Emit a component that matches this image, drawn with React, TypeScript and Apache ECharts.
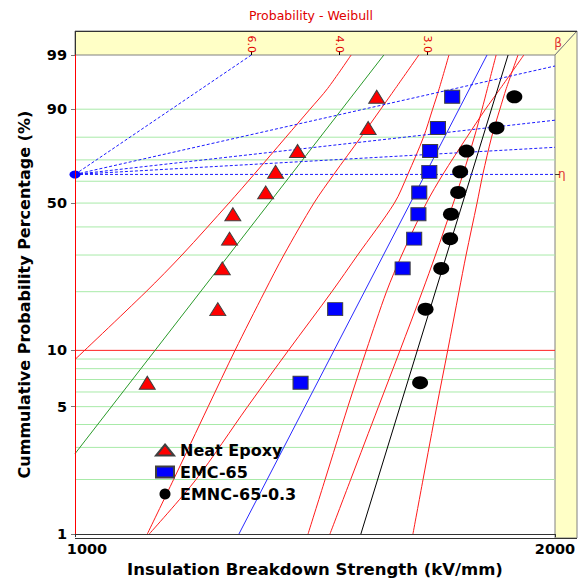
import React, { useEffect, useRef } from "react";
import * as echarts from "echarts";

// ---------------- data ----------------
// median-rank cumulative probability (%) shared by the three 10-sample sets
const rankProbability = [6.73, 16.35, 25.96, 35.58, 45.19, 54.81, 64.42, 74.04, 83.65, 93.27];
// breakdown strength (kV/mm)
const neatEpoxyStrength = [1110, 1229, 1237, 1250, 1256, 1317, 1336, 1379, 1527, 1546];
const emc65Strength = [1385, 1456, 1605, 1632, 1642, 1644, 1668, 1670, 1689, 1724];
const emnc65Strength = [1646, 1659, 1697, 1719, 1721, 1739, 1744, 1760, 1838, 1886];

// Weibull fit lines [strength, %]
const neatFit = [[1000, 2.77], [1562, 99]];
const emcFit = [[1267, 1], [1813, 99]];
const emncFit = [[1511, 1], [1869, 99]];

// confidence bounds: strength at these probability levels
const boundProbability = [1, 2, 5, 10, 20, 30, 50, 63.2, 80, 90, 95, 99];
const neatLowerBound = [[1000, 8.95], [1108, 20], [1167, 30], [1249, 50], [1295, 63.2], [1356, 80], [1404, 90], [1440, 95], [1490, 99]];
const neatUpperBound = [1110, 1153, 1212, 1260, 1315, 1352, 1412, 1453, 1511, 1555, 1588, 1643];
const emcLowerBound = [1113, 1191, 1283, 1361, 1449, 1504, 1586, 1617, 1654, 1676, 1692, 1716];
const emcUpperBound = [1400, 1435, 1483, 1523, 1568, 1603, 1661, 1701, 1761, 1809, 1848, 1912];
const emncLowerBound = [1445, 1489, 1550, 1599, 1651, 1683, 1727, 1751, 1780, 1800, 1814, 1837];
const emncUpperBound = [1629, 1653, 1686, 1713, 1741, 1759, 1787, 1802, 1825, 1847, 1864, 1896];

// beta nomograph: pole and line ends [strength, %]
const pole = [1000, 63.21];
const betaLineEnds = [[1290, 99], [2000, 98.17], [2000, 86.47], [2000, 75.69], [2000, 63.21]];
const betaTickLabels = ["6.0", "4.0", "3.0"];
const betaTickStrength = [1290, 1465, 1664];

// axes
const xTickLabels = [1000, 2000];
const yTickLabels = [1, 5, 10, 50, 90, 99];
const gridProbability = [2, 3, 4, 5, 6, 7, 8, 9, 20, 30, 40, 50, 60, 70, 80, 90];
const redGridProbability = [10];

// ---------------- helpers ----------------
const tx = (v: number) => Math.log10(v);
const ty = (p: number) => Math.log(-Math.log(1 - p / 100));
const pt = (v: number, p: number) => [tx(v), ty(p)];

const FONT = "DejaVu Sans";
const L = 75, T = 55, R = 555, B = 538, BAND_T = 31, BAND_R = 577;

export default function App() {
  const ref = useRef<HTMLDivElement>(null);
  useEffect(() => {
    if (!ref.current) return;
    const chart = echarts.init(ref.current, undefined, { renderer: "svg" });
    const xMin = tx(xTickLabels[0]);
    const xMax = tx(xTickLabels[1]);
    const yMin = ty(yTickLabels[0]);
    const yMax = ty(yTickLabels[yTickLabels.length - 1]);

    const line = (name: string, data: number[][], color: string, z: number, extra: any = {}) => ({
      type: "line",
      name,
      data,
      symbol: "none",
      showSymbol: false,
      silent: true,
      z,
      lineStyle: { color, width: 1, ...(extra.lineStyle || {}) },
      smooth: extra.smooth || false,
    });

    const gridSeries = [
      ...gridProbability.map((p, i) => line("g" + i, [[xMin, ty(p)], [xMax, ty(p)]], "#a8eaa8", 1)),
      ...redGridProbability.map((p, i) => line("r" + i, [[xMin, ty(p)], [xMax, ty(p)]], "#ff2020", 1)),
    ];

    const boundSeries = [
      line("nb1", neatLowerBound.map(([v, p]) => pt(v, p)), "#ff1a1a", 2, { smooth: 0.3 }),
      line("nb2", neatUpperBound.map((v, i) => pt(v, boundProbability[i])), "#ff1a1a", 2, { smooth: 0.3 }),
      line("eb1", emcLowerBound.map((v, i) => pt(v, boundProbability[i])), "#ff1a1a", 2, { smooth: 0.3 }),
      line("eb2", emcUpperBound.map((v, i) => pt(v, boundProbability[i])), "#ff1a1a", 2, { smooth: 0.3 }),
      line("kb1", emncLowerBound.map((v, i) => pt(v, boundProbability[i])), "#ff1a1a", 2, { smooth: 0.3 }),
      line("kb2", emncUpperBound.map((v, i) => pt(v, boundProbability[i])), "#ff1a1a", 2, { smooth: 0.3 }),
    ];

    const betaSeries = betaLineEnds.map((e, i) =>
      line("beta" + i, [pt(pole[0], pole[1]), pt(e[0], e[1])], "#1a1aff", 3, { lineStyle: { type: [3, 2] } })
    );

    const labelStyle = { fontFamily: FONT, fontWeight: "bold", fontSize: 14.5, color: "#000" };

    chart.setOption({
      animation: false,
      textStyle: { fontFamily: FONT },
      grid: { left: L, top: T, right: 582 - R, bottom: 583 - B, containLabel: false },
      legend: {
        data: [
          { name: "Neat Epoxy", icon: "triangle" },
          { name: "EMC-65", icon: "rect" },
          { name: "EMNC-65-0.3", icon: "circle" },
        ],
        orient: "vertical",
        left: 155,
        top: 442,
        itemWidth: 18,
        itemHeight: 11,
        itemGap: 6,
        padding: 0,
        selectedMode: false,
        textStyle: { fontFamily: FONT, fontSize: 16, fontWeight: "bold", color: "#000", padding: [0, 0, 0, 1] },
      },
      xAxis: [
        {
          type: "value",
          min: xMin,
          max: xMax,
          position: "bottom",
          z: 10,
          name: "Insulation Breakdown Strength (kV/mm)",
          nameLocation: "middle",
          nameGap: 25,
          nameTextStyle: { fontFamily: FONT, fontWeight: "bold", fontSize: 16.5, color: "#000" },
          axisLine: { show: true, onZero: false, lineStyle: { color: "#333", width: 1 } },
          axisTick: { show: true, length: 3, customValues: xTickLabels.map(tx), lineStyle: { color: "#333" } },
          axisLabel: {
            show: true,
            margin: 7,
            customValues: xTickLabels.map(tx),
            ...labelStyle,
            formatter: (v: number) => {
              const n = Math.round(Math.pow(10, v));
              return n === xTickLabels[0] ? "{a|" + n + "}" : String(n);
            },
            rich: { a: { ...labelStyle, padding: [0, 0, 0, 24] } },
          },
          splitLine: { show: false },
          splitArea: { show: false },
        },
        {
          type: "value",
          min: xMin,
          max: xMax,
          position: "top",
          z: 10,
          axisLine: { show: false, onZero: false },
          axisTick: { show: true, length: 4, customValues: betaTickStrength.map(tx), lineStyle: { color: "#000" } },
          axisLabel: {
            show: true,
            customValues: betaTickStrength.map(tx),
            rotate: 90,
            margin: 2,
            color: "#e00000",
            fontFamily: FONT,
            fontSize: 11,
            formatter: (v: number) => {
              const i = betaTickStrength.findIndex((s) => Math.abs(tx(s) - v) < 1e-6);
              return i >= 0 ? betaTickLabels[i] : "";
            },
          },
          splitLine: { show: false },
          splitArea: { show: false },
        },
      ],
      yAxis: [
        {
          type: "value",
          min: yMin,
          max: yMax,
          position: "left",
          z: 10,
          name: "Cummulative Probability Percentage (%)",
          nameLocation: "middle",
          nameGap: 43,
          nameTextStyle: { fontFamily: FONT, fontWeight: "bold", fontSize: 16, color: "#000" },
          axisLine: { show: true, onZero: false, lineStyle: { color: "#ff0000", width: 1 } },
          axisTick: { show: true, length: 4, customValues: yTickLabels.map(ty), lineStyle: { color: "#777" } },
          axisLabel: {
            show: true,
            margin: 8,
            customValues: yTickLabels.map(ty),
            ...labelStyle,
            formatter: (v: number) => String(Math.round(100 * (1 - Math.exp(-Math.exp(v))))),
          },
          splitLine: { show: false },
          splitArea: { show: false },
        },
        {
          type: "value",
          min: yMin,
          max: yMax,
          position: "right",
          z: 10,
          axisLine: { show: false, onZero: false },
          axisTick: { show: true, length: 5, customValues: [ty(pole[1])], lineStyle: { color: "#333" } },
          axisLabel: {
            show: true,
            margin: 3,
            customValues: [ty(pole[1])],
            color: "#e03030",
            fontFamily: FONT,
            fontSize: 12,
            formatter: () => "η",
          },
          splitLine: { show: false },
          splitArea: { show: false },
        },
      ],
      graphic: [
        {
          type: "polygon",
          z: 1,
          silent: true,
          shape: { points: [[L, BAND_T], [BAND_R, BAND_T], [R, T], [L, T]] },
          style: { fill: "#ffffc6", stroke: "#808080", lineWidth: 1 },
        },
        {
          type: "polygon",
          z: 1,
          silent: true,
          shape: { points: [[R, T], [BAND_R, BAND_T], [BAND_R, B], [R, B]] },
          style: { fill: "#ffffc6", stroke: "#808080", lineWidth: 1 },
        },
        {
          type: "line",
          z: 2,
          silent: true,
          shape: { x1: L, y1: BAND_T + 0.5, x2: BAND_R, y2: BAND_T + 0.5 },
          style: { stroke: "#333", lineWidth: 1 },
        },
        {
          type: "line",
          z: 2,
          silent: true,
          shape: { x1: L + 0.5, y1: BAND_T, x2: L + 0.5, y2: T },
          style: { stroke: "#333", lineWidth: 1 },
        },
        {
          type: "line",
          z: 2,
          silent: true,
          shape: { x1: L, y1: B + 0.5, x2: BAND_R, y2: B + 0.5 },
          style: { stroke: "#333", lineWidth: 1 },
        },
        {
          type: "text",
          z: 3,
          silent: true,
          x: (L + R) / 2 - 4,
          y: 15,
          style: {
            text: "Probability - Weibull",
            fill: "#e00000",
            fontFamily: FONT,
            fontSize: 12.5,
            align: "center",
            verticalAlign: "middle",
            textAlign: "center",
            textVerticalAlign: "middle",
          },
        },
        {
          type: "text",
          z: 3,
          silent: true,
          x: R + 3,
          y: 43,
          style: {
            text: "β",
            fill: "#e03030",
            fontFamily: FONT,
            fontSize: 12,
            align: "center",
            verticalAlign: "middle",
            textAlign: "center",
            textVerticalAlign: "middle",
          },
        },
      ],
      series: [
        ...gridSeries,
        ...boundSeries,
        line("neatFit", neatFit.map(([v, p]) => pt(v, p)), "#2a9a2a", 3),
        line("emcFit", emcFit.map(([v, p]) => pt(v, p)), "#2a2aff", 3),
        line("emncFit", emncFit.map(([v, p]) => pt(v, p)), "#000000", 3),
        ...betaSeries,
        {
          type: "scatter",
          name: "pole",
          data: [pt(pole[0], pole[1])],
          symbol: "circle",
          symbolSize: [11, 8],
          clip: false,
          silent: true,
          z: 6,
          itemStyle: { color: "#0000ff", opacity: 1 },
        },
        {
          type: "scatter",
          name: "Neat Epoxy",
          data: neatEpoxyStrength.map((v, i) => pt(v, rankProbability[i])),
          symbol: "triangle",
          symbolSize: [16, 13],
          z: 6,
          itemStyle: { color: "#ff0000", borderColor: "#404040", borderWidth: 1, opacity: 1 },
        },
        {
          type: "scatter",
          name: "EMC-65",
          data: emc65Strength.map((v, i) => pt(v, rankProbability[i])),
          symbol: "rect",
          symbolSize: [15, 13],
          z: 6,
          itemStyle: { color: "#0000ff", borderColor: "#404040", borderWidth: 1, opacity: 1 },
        },
        {
          type: "scatter",
          name: "EMNC-65-0.3",
          data: emnc65Strength.map((v, i) => pt(v, rankProbability[i])),
          symbol: "circle",
          symbolSize: [16, 13],
          z: 6,
          itemStyle: { color: "#000000", opacity: 1 },
        },
      ],
    });
    return () => chart.dispose();
  }, []);
  return (
    <div
      ref={ref}
      style={{ position: "absolute", left: 0, top: 0, width: 582, height: 583, background: "#fff" }}
    />
  );
}
